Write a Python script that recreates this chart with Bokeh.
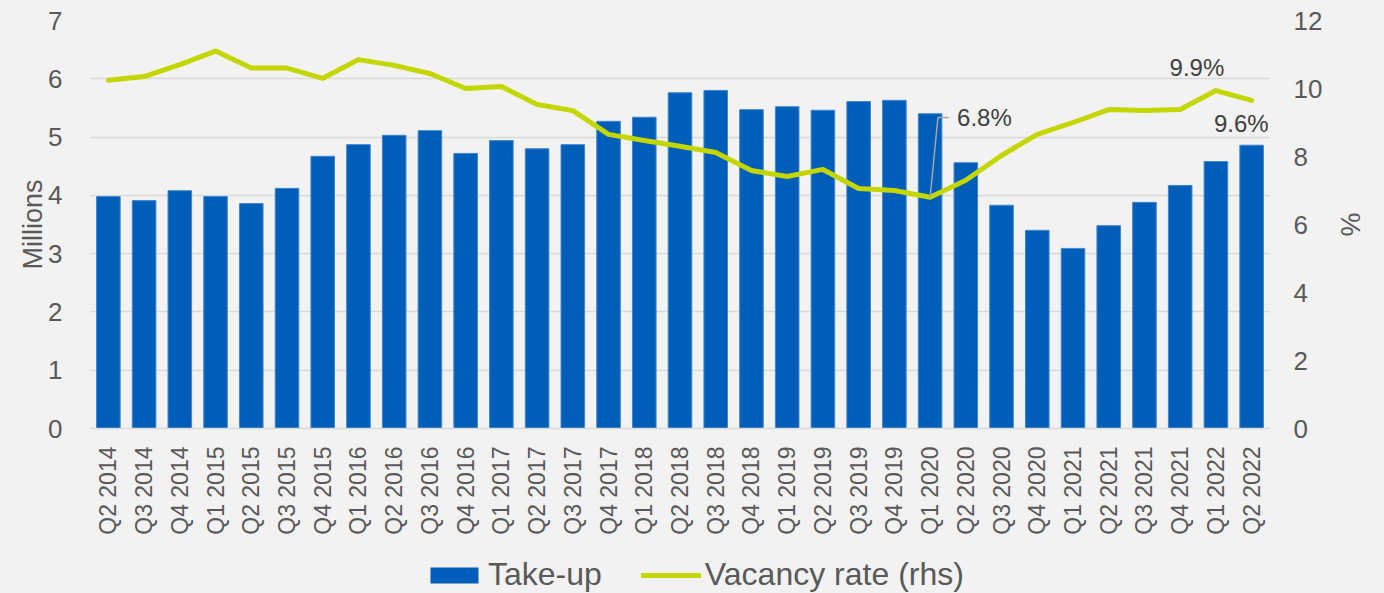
import math
from bokeh.plotting import figure
from bokeh.layouts import column
from bokeh.models import (ColumnDataSource, Range1d, LinearAxis, FixedTicker,
                          Legend, LegendItem, FactorRange, Label)
from bokeh.embed import file_html
from bokeh.resources import INLINE

quarters = ["Q2 2014", "Q3 2014", "Q4 2014",
            "Q1 2015", "Q2 2015", "Q3 2015", "Q4 2015",
            "Q1 2016", "Q2 2016", "Q3 2016", "Q4 2016",
            "Q1 2017", "Q2 2017", "Q3 2017", "Q4 2017",
            "Q1 2018", "Q2 2018", "Q3 2018", "Q4 2018",
            "Q1 2019", "Q2 2019", "Q3 2019", "Q4 2019",
            "Q1 2020", "Q2 2020", "Q3 2020", "Q4 2020",
            "Q1 2021", "Q2 2021", "Q3 2021", "Q4 2021",
            "Q1 2022", "Q2 2022"]

take_up = [3.98, 3.91, 4.08, 3.98, 3.86, 4.12, 4.67, 4.87, 5.03, 5.11, 4.72,
           4.94, 4.80, 4.87, 5.27, 5.34, 5.76, 5.80, 5.47, 5.52, 5.46, 5.61,
           5.63, 5.40, 4.56, 3.83, 3.40, 3.09, 3.48, 3.88, 4.17, 4.58, 4.86]

vacancy = [10.24, 10.35, 10.7, 11.1, 10.6, 10.6, 10.3, 10.85, 10.68, 10.44,
           10.0, 10.06, 9.53, 9.35, 8.65, 8.47, 8.3, 8.12, 7.59, 7.41, 7.62,
           7.06, 7.0, 6.8, 7.3, 8.03, 8.65, 9.0, 9.38, 9.35, 9.38, 9.94, 9.65]

left_ticks = [0, 1, 2, 3, 4, 5, 6, 7]
right_ticks = [0, 2, 4, 6, 8, 10, 12]

TEXT = "#595959"
FONT = "Liberation Sans"
BAR = "#005EB8"
BAR_EDGE = "#3f86d0"
LINE = "#C4D600"
BG = "#F2F2F2"

src = ColumnDataSource(dict(q=quarters, t=take_up, v=vacancy))
xr = FactorRange(factors=quarters, range_padding=0)

p = figure(x_range=xr, y_range=Range1d(0, 7),
           frame_width=1179, frame_height=408,
           min_border_left=90, min_border_right=115, min_border_top=20,
           min_border_bottom=115,
           output_backend="svg", toolbar_location=None)
p.background_fill_color = BG
p.border_fill_color = BG
p.outline_line_color = None
p.extra_y_ranges = {"pct": Range1d(0, 12)}

p.vbar(x="q", top="t", width=0.66, source=src, fill_color=BAR,
       line_color=BAR_EDGE, line_width=1)
p.line(x="q", y="v", source=src, y_range_name="pct", line_color=LINE,
       line_width=5, line_cap="round", line_join="round")

# annotations
i68 = quarters.index("Q1 2020")
p.line(x=[("Q1 2020", 0.0), ("Q1 2020", 0.22), ("Q1 2020", 0.52)],
       y=[vacancy[i68], vacancy[i68] + 2.35, vacancy[i68] + 2.35],
       y_range_name="pct", line_color="#a6a6a6", line_width=1.5)


def lab(q, val, txt, align, dx, dy):
    xc = quarters.index(q) + 0.5   # synthetic categorical coordinate
    p.add_layout(Label(x=xc, y=val, text=txt, y_range_name="pct",
                       x_offset=dx, y_offset=dy, text_font=FONT,
                       text_font_size="24px", text_color="#404040",
                       text_align=align, text_baseline="middle"))


lab("Q1 2020", vacancy[i68] + 2.35, "6.8%", "left", 27, 0)
i99 = quarters.index("Q1 2022")
lab("Q1 2022", vacancy[i99], "9.9%", "center", -19, 23)
i96 = quarters.index("Q2 2022")
lab("Q2 2022", vacancy[i96], "9.6%", "right", 17, -23)

# axes
p.yaxis.ticker = FixedTicker(ticks=left_ticks)
p.yaxis.axis_label = "Millions"
ax = p.yaxis[0]
ax.axis_line_color = None
ax.major_tick_line_color = None
ax.minor_tick_line_color = None
ax.major_label_text_font = FONT
ax.major_label_text_font_size = "26px"
ax.major_label_text_color = TEXT
ax.major_label_standoff = 22
ax.axis_label_text_font = FONT
ax.axis_label_text_font_size = "27px"
ax.axis_label_text_font_style = "normal"
ax.axis_label_text_color = TEXT
ax.axis_label_standoff = -3

ry = LinearAxis(y_range_name="pct", ticker=FixedTicker(ticks=right_ticks),
                axis_label="%")
ry.axis_line_color = None
ry.major_tick_line_color = None
ry.minor_tick_line_color = None
ry.major_label_text_font = FONT
ry.major_label_text_font_size = "26px"
ry.major_label_text_color = TEXT
ry.major_label_standoff = 18
ry.axis_label_text_font = FONT
ry.axis_label_text_font_size = "27px"
ry.axis_label_text_font_style = "normal"
ry.axis_label_text_color = TEXT
ry.axis_label_standoff = 10
p.add_layout(ry, "right")

xa = p.xaxis[0]
xa.axis_line_color = "#d9d9d9"
xa.axis_line_width = 1.5
xa.major_tick_line_color = None
xa.minor_tick_line_color = None
xa.major_label_orientation = math.pi / 2
xa.major_label_text_font = FONT
xa.major_label_text_font_size = "23px"
xa.major_label_text_color = TEXT
xa.major_label_standoff = 12

p.xgrid.grid_line_color = None
p.ygrid.grid_line_color = "#d9d9d9"
p.ygrid.grid_line_width = 1.5

# legend strip: hidden copies of the two series supply the legend swatches
lf = figure(x_range=xr, y_range=Range1d(-20, -19), width=1384, height=50,
            min_border=0, min_border_left=0, min_border_right=0,
            min_border_top=0, min_border_bottom=0,
            x_axis_location=None, y_axis_location=None,
            output_backend="svg", toolbar_location=None)
lf.grid.visible = False
lf.background_fill_color = BG
lf.border_fill_color = BG
lf.outline_line_color = None
lb = lf.vbar(x="q", top="t", width=0.66, source=src, fill_color=BAR,
             line_color=None)
ll = lf.line(x="q", y="v", source=src, line_color=LINE, line_width=5,
             line_cap="round")
lb.visible = False
ll.visible = False
legend = Legend(items=[LegendItem(label="Take-up", renderers=[lb]),
                       LegendItem(label="Vacancy rate (rhs)", renderers=[ll])],
                orientation="horizontal", location=(334, 0),
                background_fill_alpha=0, border_line_color=None,
                inactive_fill_alpha=0,
                label_text_font=FONT, label_text_font_size="32px",
                label_text_color=TEXT, glyph_width=60, glyph_height=20,
                label_standoff=4, spacing=39, margin=0, padding=0)
lf.add_layout(legend, "center")

layout = column(p, lf, spacing=0, styles={"background-color": BG})
open("out.html", "w").write(file_html(layout, INLINE))
